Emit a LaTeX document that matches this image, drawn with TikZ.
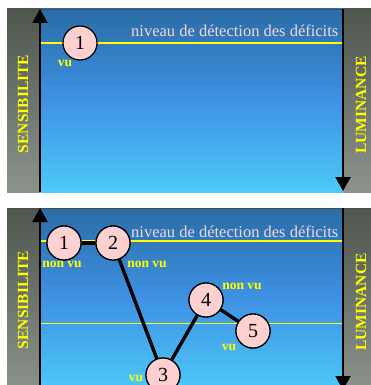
\documentclass[tikz,border=0pt]{standalone}
\usepackage{fontspec}
\setmainfont{Liberation Serif}
\usetikzlibrary{arrows.meta}
\definecolor{bluetop}{HTML}{2A6CA6}
\definecolor{bluemid}{HTML}{3F92E4}
\definecolor{bluebot}{HTML}{4CCAF8}
\definecolor{greytop}{HTML}{4E564E}
\definecolor{greybot}{HTML}{8C928C}
\definecolor{ylw}{HTML}{FFFF00}
\definecolor{pinkfill}{HTML}{FFD0D0}
\definecolor{pinktext}{HTML}{F4D8E0}
\begin{document}
\begin{tikzpicture}[x=1pt,y=-1pt,
  ptcircle/.style={circle,draw=black,line width=1.2pt,fill=pinkfill,minimum size=34pt,inner sep=0pt,font=\fontsize{20}{20}\selectfont},
  lbl/.style={text=ylw,font=\bfseries\fontsize{13.5}{13.5}\selectfont,inner sep=0pt},
  axlbl/.style={text=ylw,font=\bfseries\fontsize{15.5}{15.5}\selectfont,rotate=90,inner sep=0pt},
  title/.style={text=pinktext,font=\fontsize{16.5}{16.5}\selectfont,inner sep=0pt,anchor=base west},
  link/.style={line width=3.4pt,black},
  axis/.style={line width=2pt,black},
  tip/.style={-{Triangle[width=15pt,length=14pt]}}
]
\useasboundingbox (0,0) rectangle (371,385);
\fill[white] (0,0) rectangle (371,385);
\clip (0,0) rectangle (371,385);
% ---------- top panel ----------
\fill[top color=greytop,bottom color=greybot] (7,9) rectangle (40,192);
\fill[top color=greytop,bottom color=greybot] (343,9) rectangle (371,192);
\shade[top color=bluetop,bottom color=bluebot,middle color=bluemid] (40,9) rectangle (343,192);
\draw[line width=0.8pt,black!70] (7,9) -- (371,9);
\coordinate (tyl) at (40,43);
\coordinate (tyr) at (343,43);
\draw[ylw,line width=2pt] (tyl) -- (tyr);
\coordinate (tab) at (40,192);
\coordinate (tat) at (40,9);
\draw[axis,tip] (tab) -- (tat);
\coordinate (trt) at (343,9);
\coordinate (trb) at (343,191);
\draw[axis,tip] (trt) -- (trb);
\node[ptcircle] (ta) at (80,43) {1};
\node[lbl] (tavu) at (65,63) {vu};
\node[title] (ttitle) at (131,37) {niveau de détection des déficits};
\node[axlbl] (tsens) at (23,104) {SENSIBILITE};
\node[axlbl] (tlum) at (361,105) {LUMINANCE};
% ---------- bottom panel ----------
\fill[top color=greytop,bottom color=greybot] (7,208) rectangle (40,391);
\fill[top color=greytop,bottom color=greybot] (343,208) rectangle (371,391);
\shade[top color=bluetop,bottom color=bluebot,middle color=bluemid] (40,208) rectangle (343,391);
\draw[line width=0.8pt,black!70] (7,208) -- (371,208);
\coordinate (byl) at (40,241);
\coordinate (byr) at (343,241);
\draw[ylw,line width=2pt] (byl) -- (byr);
\coordinate (byl2) at (40,323);
\coordinate (byr2) at (343,323);
\draw[ylw,line width=0.7pt] (byl2) -- (byr2);
\coordinate (bab) at (40,391);
\coordinate (bat) at (40,208);
\draw[axis,tip] (bab) -- (bat);
\coordinate (brt) at (343,208);
\coordinate (brb) at (343,390);
\draw[axis,tip] (brt) -- (brb);
\node[ptcircle] (b1) at (64,243) {1};
\node[ptcircle] (b2) at (113,243) {2};
\node[ptcircle] (b3) at (163,375) {3};
\node[ptcircle] (b4) at (206,300) {4};
\node[ptcircle] (b5) at (253,331) {5};
\draw[link] (b1) -- (b2);
\draw[link] (b2) -- (b3);
\draw[link] (b3) -- (b4);
\draw[link] (b4) -- (b5);
\node[ptcircle] at (b1) {1};
\node[ptcircle] at (b2) {2};
\node[ptcircle] at (b3) {3};
\node[ptcircle] at (b4) {4};
\node[ptcircle] at (b5) {5};
\node[title] (btitle) at (131,237) {niveau de détection des déficits};
\node[lbl] (l1) at (62,264) {non vu};
\node[lbl] (l2) at (147,264) {non vu};
\node[lbl] (l4) at (242,286) {non vu};
\node[lbl] (l5) at (229,347) {vu};
\node[lbl] (l3) at (136,378) {vu};
\node[axlbl] (bsens) at (23,300) {SENSIBILITE};
\node[axlbl] (blum) at (361,302) {LUMINANCE};
\end{tikzpicture}
\end{document}
